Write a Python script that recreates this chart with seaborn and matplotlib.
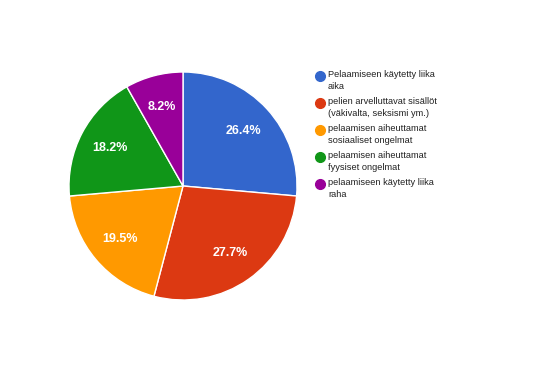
import matplotlib
matplotlib.use("Agg")
import matplotlib.pyplot as plt
import seaborn as sns

labels = ["Pelaamiseen käytetty liika\naika",
          "pelien arvelluttavat sisällöt\n(väkivalta, seksismi ym.)",
          "pelaamisen aiheuttamat\nsosiaaliset ongelmat",
          "pelaamisen aiheuttamat\nfyysiset ongelmat",
          "pelaamiseen käytetty liika\nraha"]
values = [26.4, 27.7, 19.5, 18.2, 8.2]
colors = ["#3366cc", "#dc3912", "#ff9900", "#109618", "#990099"]

sns.set_style("white")
plt.rcParams['font.family'] = ['Arial', 'Liberation Sans', 'DejaVu Sans']

W, H = 554, 373
fig = plt.figure(figsize=(W / 100, H / 100), dpi=100)
cx, cy, r = 183, 186, 114
ax = fig.add_axes([(cx - r) / W, (H - cy - r) / H, 2 * r / W, 2 * r / H])
wedges, texts, autotexts = ax.pie(values, colors=colors, startangle=90, counterclock=False,
                                  autopct="%.1f%%", pctdistance=0.72,
                                  wedgeprops=dict(edgecolor="white", linewidth=1),
                                  textprops=dict(color="white", fontsize=9, fontweight="bold"))
ax.set_xlim(-1, 1)
ax.set_ylim(-1, 1)
ax.set_aspect("equal")

# legend drawn by hand so the marker sits on the first line
for i, (lab, c) in enumerate(zip(labels, colors)):
    y = 76 + 27 * i
    fig.add_artist(plt.Line2D([320 / W], [1 - y / H], marker="o", markersize=7,
                              color=c, transform=fig.transFigure))
    fig.text(328 / W, 1 - (y - 6) / H, lab, fontsize=6.7, color="#222222",
             va="top", ha="left", linespacing=1.45)

fig.savefig("out.png", dpi=100)
